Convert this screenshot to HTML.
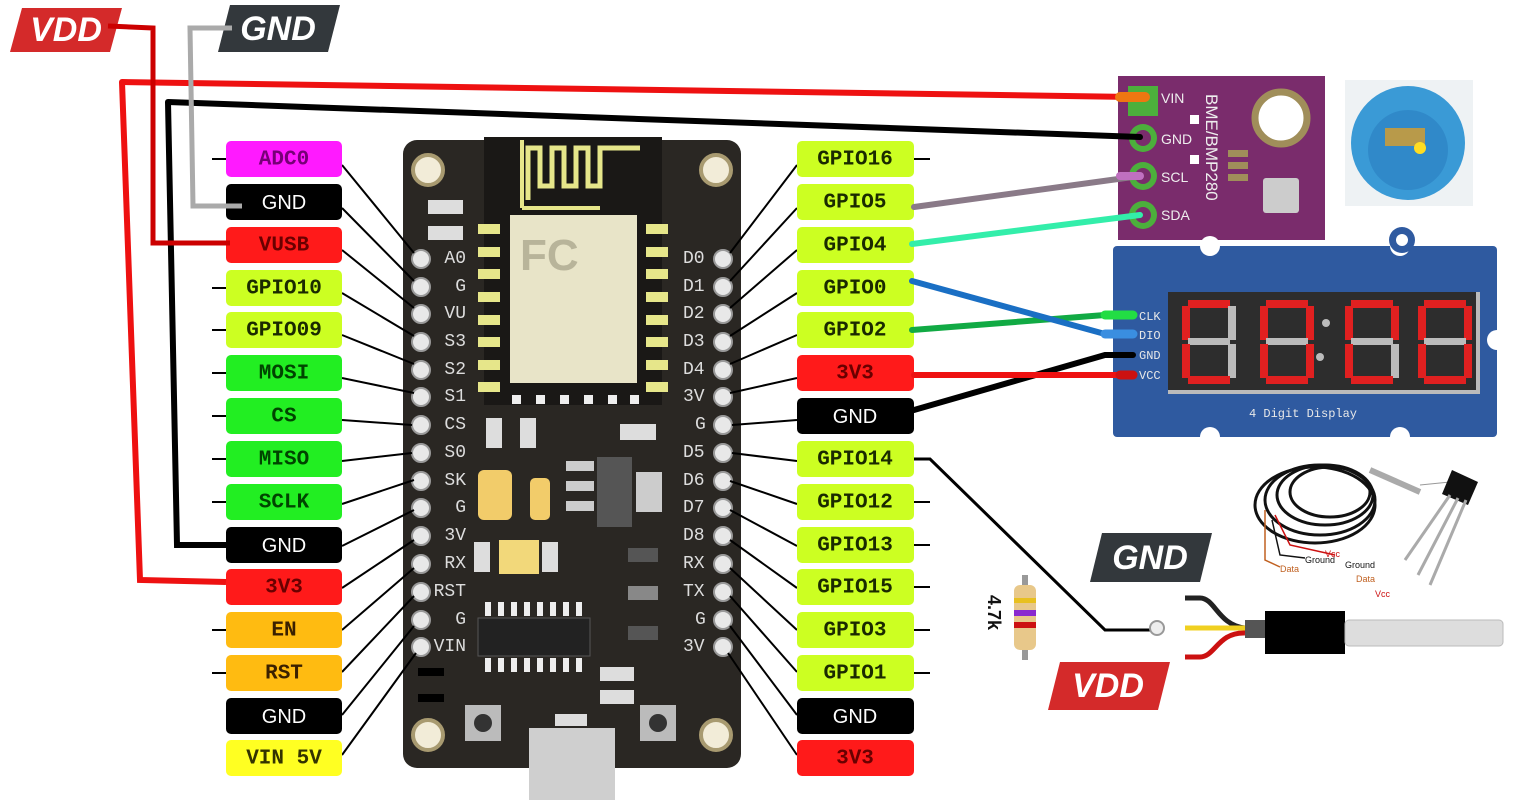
<!DOCTYPE html>
<html><head><meta charset="utf-8"><style>
html,body{margin:0;padding:0;background:#fff;width:1517px;height:800px;overflow:hidden}
svg{display:block}
.lt{font-family:"Liberation Mono",monospace;font-size:21px;font-weight:bold;text-anchor:middle;dominant-baseline:central}
.gt{font-family:"Liberation Sans",sans-serif;font-size:20px;text-anchor:middle;dominant-baseline:central;fill:#fff}
.pl{font-family:"Liberation Mono",monospace;font-size:18px;fill:#ddd;dominant-baseline:central}
.big{font-family:"Liberation Sans",sans-serif;font-size:34px;font-weight:bold;font-style:italic;fill:#fff;text-anchor:middle;dominant-baseline:central}
</style></head><body>
<svg width="1517" height="800" viewBox="0 0 1517 800" xmlns="http://www.w3.org/2000/svg">
<polygon points="22,8 122,8 110,52 10,52" fill="#d42a2a"/>
<text class="big" x="66" y="30">VDD</text>
<polygon points="230,5 340,5 328,52 218,52" fill="#33383c"/>
<text class="big" x="278" y="29">GND</text>

<rect x="403" y="140" width="338" height="628" rx="14" fill="#2a2723"/>
<g fill="#f2ecd8" stroke="#a89a70" stroke-width="4">
<circle cx="428" cy="170" r="15"/><circle cx="716" cy="170" r="15"/>
<circle cx="428" cy="735" r="15"/><circle cx="716" cy="735" r="15"/>
</g>
<rect x="484" y="137" width="178" height="268" fill="#1a1816"/>
<path d="M528,200 V148 H540 V186 H552 V148 H564 V186 H576 V148 H588 V186 H600 V148 H640" fill="none" stroke="#e6e68a" stroke-width="5"/>
<path d="M522,208 V140 M522,208 H600" fill="none" stroke="#e6e68a" stroke-width="4"/>
<rect x="510" y="215" width="127" height="168" fill="#e8e4c8"/>
<text x="520" y="270" font-family="Liberation Sans,sans-serif" font-size="44" font-weight="bold" fill="#b8b49a">FC</text>
<g fill="#e6e68a">
<rect x="478" y="224" width="22" height="10"/><rect x="478" y="247" width="22" height="10"/><rect x="478" y="269" width="22" height="10"/><rect x="478" y="292" width="22" height="10"/><rect x="478" y="315" width="22" height="10"/><rect x="478" y="337" width="22" height="10"/><rect x="478" y="360" width="22" height="10"/><rect x="478" y="382" width="22" height="10"/>
<rect x="646" y="224" width="22" height="10"/><rect x="646" y="247" width="22" height="10"/><rect x="646" y="269" width="22" height="10"/><rect x="646" y="292" width="22" height="10"/><rect x="646" y="315" width="22" height="10"/><rect x="646" y="337" width="22" height="10"/><rect x="646" y="360" width="22" height="10"/><rect x="646" y="382" width="22" height="10"/>
</g>
<g fill="#eee"><rect x="512" y="395" width="9" height="9"/><rect x="536" y="395" width="9" height="9"/><rect x="560" y="395" width="9" height="9"/><rect x="584" y="395" width="9" height="9"/><rect x="608" y="395" width="9" height="9"/><rect x="630" y="395" width="9" height="9"/></g>
<g fill="#ddd"><rect x="428" y="200" width="35" height="14"/><rect x="428" y="226" width="35" height="14"/><rect x="486" y="418" width="16" height="30"/><rect x="520" y="418" width="16" height="30"/><rect x="620" y="424" width="36" height="16"/><rect x="474" y="542" width="16" height="30"/><rect x="542" y="542" width="16" height="30"/><rect x="600" y="667" width="34" height="14"/><rect x="600" y="690" width="34" height="14"/></g>
<rect x="478" y="470" width="34" height="50" rx="6" fill="#f2cc6a"/>
<rect x="530" y="478" width="20" height="42" rx="5" fill="#f2cc6a"/>
<rect x="499" y="540" width="40" height="34" fill="#f2d87a"/>
<rect x="597" y="457" width="35" height="70" fill="#555"/>
<rect x="636" y="472" width="26" height="40" fill="#ccc"/>
<g fill="#ccc"><rect x="566" y="461" width="28" height="10"/><rect x="566" y="481" width="28" height="10"/><rect x="566" y="501" width="28" height="10"/></g>
<rect x="478" y="618" width="112" height="38" fill="#222" stroke="#555"/>
<g fill="#eee"><rect x="485" y="602" width="6" height="14"/><rect x="498" y="602" width="6" height="14"/><rect x="511" y="602" width="6" height="14"/><rect x="524" y="602" width="6" height="14"/><rect x="537" y="602" width="6" height="14"/><rect x="550" y="602" width="6" height="14"/><rect x="563" y="602" width="6" height="14"/><rect x="576" y="602" width="6" height="14"/>
<rect x="485" y="658" width="6" height="14"/><rect x="498" y="658" width="6" height="14"/><rect x="511" y="658" width="6" height="14"/><rect x="524" y="658" width="6" height="14"/><rect x="537" y="658" width="6" height="14"/><rect x="550" y="658" width="6" height="14"/><rect x="563" y="658" width="6" height="14"/><rect x="576" y="658" width="6" height="14"/></g>
<rect x="628" y="548" width="30" height="14" fill="#555"/><rect x="628" y="586" width="30" height="14" fill="#888"/><rect x="628" y="626" width="30" height="14" fill="#555"/>
<rect x="465" y="705" width="36" height="36" fill="#bbb"/><circle cx="483" cy="723" r="9" fill="#333"/>
<rect x="640" y="705" width="36" height="36" fill="#bbb"/><circle cx="658" cy="723" r="9" fill="#333"/>
<rect x="529" y="728" width="86" height="72" fill="#cfcfcf"/>
<rect x="555" y="714" width="32" height="12" fill="#ddd"/>
<rect x="418" y="668" width="26" height="8" fill="#000"/><rect x="418" y="694" width="26" height="8" fill="#000"/>

<g fill="#e8e8e8" stroke="#999" stroke-width="2">
<circle cx="421" cy="259" r="9"/><circle cx="421" cy="287" r="9"/><circle cx="421" cy="314" r="9"/><circle cx="421" cy="342" r="9"/><circle cx="421" cy="370" r="9"/><circle cx="421" cy="397" r="9"/><circle cx="421" cy="425" r="9"/><circle cx="421" cy="453" r="9"/><circle cx="421" cy="481" r="9"/><circle cx="421" cy="508" r="9"/><circle cx="421" cy="536" r="9"/><circle cx="421" cy="564" r="9"/><circle cx="421" cy="592" r="9"/><circle cx="421" cy="620" r="9"/><circle cx="421" cy="647" r="9"/>
<circle cx="723" cy="259" r="9"/><circle cx="723" cy="287" r="9"/><circle cx="723" cy="314" r="9"/><circle cx="723" cy="342" r="9"/><circle cx="723" cy="370" r="9"/><circle cx="723" cy="397" r="9"/><circle cx="723" cy="425" r="9"/><circle cx="723" cy="453" r="9"/><circle cx="723" cy="481" r="9"/><circle cx="723" cy="508" r="9"/><circle cx="723" cy="536" r="9"/><circle cx="723" cy="564" r="9"/><circle cx="723" cy="592" r="9"/><circle cx="723" cy="620" r="9"/><circle cx="723" cy="647" r="9"/>
</g>
<g class="pl" text-anchor="end">
<text x="466" y="259">A0</text><text x="466" y="287">G</text><text x="466" y="314">VU</text><text x="466" y="342">S3</text><text x="466" y="370">S2</text><text x="466" y="397">S1</text><text x="466" y="425">CS</text><text x="466" y="453">S0</text><text x="466" y="481">SK</text><text x="466" y="508">G</text><text x="466" y="536">3V</text><text x="466" y="564">RX</text><text x="466" y="592">RST</text><text x="466" y="620">G</text><text x="466" y="647">VIN</text>
</g>
<g class="pl" text-anchor="start">
<text x="683" y="259">D0</text><text x="683" y="287">D1</text><text x="683" y="314">D2</text><text x="683" y="342">D3</text><text x="683" y="370">D4</text><text x="683" y="397">3V</text><text x="695" y="425">G</text><text x="683" y="453">D5</text><text x="683" y="481">D6</text><text x="683" y="508">D7</text><text x="683" y="536">D8</text><text x="683" y="564">RX</text><text x="683" y="592">TX</text><text x="695" y="620">G</text><text x="683" y="647">3V</text>
</g>

<g stroke="#000" stroke-width="2" fill="none">
<path d="M342,165 L414,253 M342,208 L414,281 M342,250 L414,308 M342,293 L414,336 M342,335 L414,364 M342,378 L414,393 M342,420 L412,425 M342,461 L412,453 M342,504 L414,480 M342,546 L414,510 M342,588 L414,540 M342,630 L414,568 M342,672 L414,596 M342,715 L414,626 M342,755 L416,653"/>
<path d="M797,165 L730,253 M797,208 L730,281 M797,250 L730,308 M797,293 L730,336 M797,335 L730,364 M797,378 L730,393 M797,420 L732,425 M797,461 L732,453 M797,504 L730,481 M797,546 L730,510 M797,588 L730,540 M797,630 L730,568 M797,672 L730,596 M797,715 L730,626 M797,755 L728,653"/>
<path d="M212,159 H226 M212,288 H226 M212,330 H226 M212,373 H226 M212,416 H226 M212,459 H226 M212,502 H226 M212,630 H226 M212,673 H226"/>
<path d="M914,159 H930 M914,502 H930 M914,545 H930 M914,587 H930 M914,630 H930 M914,673 H930"/>
</g>

<g>
<rect x="226" y="141" width="116" height="36" rx="5" fill="#ff1aff"/><text class="lt" x="284" y="160" fill="#770077">ADC0</text>
<rect x="226" y="184" width="116" height="36" rx="5" fill="#000"/><text class="gt" x="284" y="203">GND</text>
<rect x="226" y="227" width="116" height="36" rx="5" fill="#ff1a1a"/><text class="lt" x="284" y="246" fill="#6a0000">VUSB</text>
<rect x="226" y="270" width="116" height="36" rx="5" fill="#ccff22"/><text class="lt" x="284" y="289" fill="#1a2a00">GPIO10</text>
<rect x="226" y="312" width="116" height="36" rx="5" fill="#ccff22"/><text class="lt" x="284" y="331" fill="#1a2a00">GPIO09</text>
<rect x="226" y="355" width="116" height="36" rx="5" fill="#22ee22"/><text class="lt" x="284" y="374" fill="#004400">MOSI</text>
<rect x="226" y="398" width="116" height="36" rx="5" fill="#22ee22"/><text class="lt" x="284" y="417" fill="#004400">CS</text>
<rect x="226" y="441" width="116" height="36" rx="5" fill="#22ee22"/><text class="lt" x="284" y="460" fill="#004400">MISO</text>
<rect x="226" y="484" width="116" height="36" rx="5" fill="#22ee22"/><text class="lt" x="284" y="503" fill="#004400">SCLK</text>
<rect x="226" y="527" width="116" height="36" rx="5" fill="#000"/><text class="gt" x="284" y="546">GND</text>
<rect x="226" y="569" width="116" height="36" rx="5" fill="#ff1a1a"/><text class="lt" x="284" y="588" fill="#6a0000">3V3</text>
<rect x="226" y="612" width="116" height="36" rx="5" fill="#ffbb11"/><text class="lt" x="284" y="631" fill="#3a2000">EN</text>
<rect x="226" y="655" width="116" height="36" rx="5" fill="#ffbb11"/><text class="lt" x="284" y="674" fill="#3a2000">RST</text>
<rect x="226" y="698" width="116" height="36" rx="5" fill="#000"/><text class="gt" x="284" y="717">GND</text>
<rect x="226" y="740" width="116" height="36" rx="5" fill="#ffff22"/><text class="lt" x="284" y="759" fill="#333300">VIN 5V</text>
</g>
<g>
<rect x="797" y="141" width="117" height="36" rx="5" fill="#ccff22"/><text class="lt" x="855" y="160" fill="#1a2a00">GPIO16</text>
<rect x="797" y="184" width="117" height="36" rx="5" fill="#ccff22"/><text class="lt" x="855" y="203" fill="#1a2a00">GPIO5</text>
<rect x="797" y="227" width="117" height="36" rx="5" fill="#ccff22"/><text class="lt" x="855" y="246" fill="#1a2a00">GPIO4</text>
<rect x="797" y="270" width="117" height="36" rx="5" fill="#ccff22"/><text class="lt" x="855" y="289" fill="#1a2a00">GPIO0</text>
<rect x="797" y="312" width="117" height="36" rx="5" fill="#ccff22"/><text class="lt" x="855" y="331" fill="#1a2a00">GPIO2</text>
<rect x="797" y="355" width="117" height="36" rx="5" fill="#ff1a1a"/><text class="lt" x="855" y="374" fill="#6a0000">3V3</text>
<rect x="797" y="398" width="117" height="36" rx="5" fill="#000"/><text class="gt" x="855" y="417">GND</text>
<rect x="797" y="441" width="117" height="36" rx="5" fill="#ccff22"/><text class="lt" x="855" y="460" fill="#1a2a00">GPIO14</text>
<rect x="797" y="484" width="117" height="36" rx="5" fill="#ccff22"/><text class="lt" x="855" y="503" fill="#1a2a00">GPIO12</text>
<rect x="797" y="527" width="117" height="36" rx="5" fill="#ccff22"/><text class="lt" x="855" y="546" fill="#1a2a00">GPIO13</text>
<rect x="797" y="569" width="117" height="36" rx="5" fill="#ccff22"/><text class="lt" x="855" y="588" fill="#1a2a00">GPIO15</text>
<rect x="797" y="612" width="117" height="36" rx="5" fill="#ccff22"/><text class="lt" x="855" y="631" fill="#1a2a00">GPIO3</text>
<rect x="797" y="655" width="117" height="36" rx="5" fill="#ccff22"/><text class="lt" x="855" y="674" fill="#1a2a00">GPIO1</text>
<rect x="797" y="698" width="117" height="36" rx="5" fill="#000"/><text class="gt" x="855" y="717">GND</text>
<rect x="797" y="740" width="117" height="36" rx="5" fill="#ff1a1a"/><text class="lt" x="855" y="759" fill="#6a0000">3V3</text>
</g>

<rect x="1118" y="76" width="207" height="164" fill="#7a2c6c"/>
<g fill="#4caf3c"><rect x="1128" y="86" width="30" height="30"/><circle cx="1143" cy="138" r="14"/><circle cx="1143" cy="176" r="14"/><circle cx="1143" cy="215" r="14"/></g>
<g fill="#7a2c6c"><circle cx="1143" cy="138" r="8"/><circle cx="1143" cy="176" r="8"/><circle cx="1143" cy="215" r="8"/></g>
<g font-family="Liberation Sans,sans-serif" font-size="14" fill="#eee"><text x="1161" y="103">VIN</text><text x="1161" y="144">GND</text><text x="1161" y="182">SCL</text><text x="1161" y="220">SDA</text></g>
<text x="0" y="0" transform="translate(1206,94) rotate(90)" font-family="Liberation Sans,sans-serif" font-size="17" fill="#eee">BME/BMP280</text>
<rect x="1190" y="115" width="9" height="9" fill="#fff"/><rect x="1190" y="155" width="9" height="9" fill="#fff"/>
<circle cx="1281" cy="118" r="26" fill="#fff" stroke="#a08e5a" stroke-width="7"/>
<g fill="#a08e5a"><rect x="1228" y="150" width="20" height="7"/><rect x="1228" y="162" width="20" height="7"/><rect x="1228" y="174" width="20" height="7"/></g>
<rect x="1263" y="178" width="36" height="35" rx="3" fill="#ccc"/>
<g fill="none" stroke-linecap="round">
<path d="M122,82 L1133,97" stroke="#ee1111" stroke-width="6"/>
<path d="M1120,97 H1145" stroke="#ee7711" stroke-width="10"/>
<path d="M168,102 L1140,137" stroke="#000" stroke-width="6"/>
<path d="M914,207 L1140,176" stroke="#8a7a88" stroke-width="6"/>
<path d="M1120,176 H1140" stroke="#c070c0" stroke-width="8"/>
<path d="M912,244 L1140,215" stroke="#33eeaa" stroke-width="6"/>
</g>
<rect x="1345" y="80" width="128" height="126" fill="#eef2f4"/>
<circle cx="1408" cy="143" r="57" fill="#3a9ad6"/>
<circle cx="1408" cy="150" r="40" fill="#2a7fbf" opacity="0.6"/>
<rect x="1385" y="128" width="40" height="18" fill="#b89a4a"/>
<circle cx="1420" cy="148" r="6" fill="#ffdd22"/>

<rect x="1113" y="246" width="384" height="191" rx="4" fill="#2f5aa0"/>
<circle cx="1210" cy="246" r="10" fill="#fff"/><circle cx="1400" cy="246" r="10" fill="#fff"/><circle cx="1210" cy="437" r="10" fill="#fff"/><circle cx="1400" cy="437" r="10" fill="#fff"/><circle cx="1497" cy="340" r="10" fill="#fff"/>
<circle cx="1402" cy="240" r="13" fill="#2f5aa0"/><circle cx="1402" cy="240" r="6" fill="#fff"/>
<rect x="1168" y="292" width="312" height="102" fill="#bbb"/>
<rect x="1168" y="292" width="308" height="98" fill="#2d2d2d"/>
<g>
<g transform="translate(1182,300)" ><rect x="6" y="0" width="42" height="8" fill="#e02020"/><rect x="0" y="6" width="8" height="34" fill="#e02020"/><rect x="46" y="6" width="8" height="34" fill="#bbb"/><rect x="6" y="38" width="42" height="7" fill="#bbb"/><rect x="0" y="44" width="8" height="34" fill="#e02020"/><rect x="46" y="44" width="8" height="34" fill="#bbb"/><rect x="6" y="76" width="42" height="8" fill="#e02020"/></g>
<g transform="translate(1260,300)" ><rect x="6" y="0" width="42" height="8" fill="#e02020"/><rect x="0" y="6" width="8" height="34" fill="#e02020"/><rect x="46" y="6" width="8" height="34" fill="#e02020"/><rect x="6" y="38" width="42" height="7" fill="#bbb"/><rect x="0" y="44" width="8" height="34" fill="#e02020"/><rect x="46" y="44" width="8" height="34" fill="#e02020"/><rect x="6" y="76" width="42" height="8" fill="#e02020"/></g>
<g transform="translate(1345,300)" ><rect x="6" y="0" width="42" height="8" fill="#e02020"/><rect x="0" y="6" width="8" height="34" fill="#e02020"/><rect x="46" y="6" width="8" height="34" fill="#e02020"/><rect x="6" y="38" width="42" height="7" fill="#bbb"/><rect x="0" y="44" width="8" height="34" fill="#e02020"/><rect x="46" y="44" width="8" height="34" fill="#bbb"/><rect x="6" y="76" width="42" height="8" fill="#e02020"/></g>
<g transform="translate(1418,300)" ><rect x="6" y="0" width="42" height="8" fill="#e02020"/><rect x="0" y="6" width="8" height="34" fill="#e02020"/><rect x="46" y="6" width="8" height="34" fill="#e02020"/><rect x="6" y="38" width="42" height="7" fill="#bbb"/><rect x="0" y="44" width="8" height="34" fill="#e02020"/><rect x="46" y="44" width="8" height="34" fill="#e02020"/><rect x="6" y="76" width="42" height="8" fill="#e02020"/></g>
<circle cx="1326" cy="323" r="4" fill="#bbb"/><circle cx="1320" cy="357" r="4" fill="#bbb"/>
</g>
<text x="1303" y="417" font-family="Liberation Mono,monospace" font-size="12" fill="#e8e8e8" text-anchor="middle">4 Digit Display</text>
<g font-family="Liberation Mono,monospace" font-size="12" fill="#e8e8e8"><text x="1139" y="320">CLK</text><text x="1139" y="339">DIO</text><text x="1139" y="359">GND</text><text x="1139" y="379">VCC</text></g>
<g fill="none" stroke-linecap="round">
<path d="M912,330 L1105,315 H1133" stroke="#11aa44" stroke-width="6"/>
<path d="M1105,315 H1133" stroke="#22dd44" stroke-width="9"/>
<path d="M912,281 L1105,334 H1133" stroke="#1a6fc4" stroke-width="6"/>
<path d="M1105,334 H1133" stroke="#3a8ee0" stroke-width="9"/>
<path d="M914,410 L1105,355 H1133" stroke="#000" stroke-width="6"/>
<path d="M914,375 H1133" stroke="#ee1111" stroke-width="6"/>
<path d="M1120,375 H1133" stroke="#cc1111" stroke-width="9"/>
</g>

<g fill="none" stroke-linejoin="miter">
<path d="M226,582 L140,580 L122,82" stroke="#ee1111" stroke-width="6"/>
<path d="M226,545 L177,545 L168,102" stroke="#000" stroke-width="6"/>
<path d="M108,26 L153,28 L153,243 L230,243" stroke="#cc0000" stroke-width="5"/>
<path d="M232,28 L190,28 L193,206 L242,206" stroke="#aaa" stroke-width="5"/>
</g>

<polygon points="1102,533 1212,533 1200,582 1090,582" fill="#33383c"/>
<text class="big" x="1150" y="558">GND</text>
<polygon points="1060,662 1170,662 1158,710 1048,710" fill="#d42a2a"/>
<text class="big" x="1108" y="686">VDD</text>
<path d="M914,459 H930 L1105,630 H1150" fill="none" stroke="#000" stroke-width="3"/>
<circle cx="1157" cy="628" r="7" fill="#eee" stroke="#999" stroke-width="2"/>
<rect x="1022" y="575" width="6" height="85" fill="#999"/>
<rect x="1014" y="585" width="22" height="65" rx="6" fill="#e8c88a"/>
<rect x="1014" y="598" width="22" height="5" fill="#e8c020"/><rect x="1014" y="610" width="22" height="6" fill="#8a2ad0"/><rect x="1014" y="622" width="22" height="6" fill="#cc1111"/>
<text transform="translate(988,595) rotate(90)" font-family="Liberation Sans,sans-serif" font-size="18" font-weight="bold" fill="#111">4.7k</text>
<g fill="none" stroke-width="5">
<path d="M1185,598 H1200 C1215,598 1218,625 1245,628" stroke="#222"/>
<path d="M1185,628 H1250" stroke="#f0d020"/>
<path d="M1185,657 H1200 C1215,657 1218,632 1245,633" stroke="#cc1111"/>
</g>
<rect x="1245" y="620" width="22" height="18" fill="#555"/>
<rect x="1265" y="611" width="80" height="43" fill="#000"/>
<rect x="1345" y="620" width="158" height="26" rx="4" fill="#ddd" stroke="#bbb"/>
<g fill="none" stroke="#111" stroke-width="3">
<ellipse cx="1320" cy="500" rx="55" ry="35"/><ellipse cx="1325" cy="495" rx="48" ry="30"/><ellipse cx="1315" cy="505" rx="60" ry="38"/><ellipse cx="1330" cy="492" rx="40" ry="25"/>
</g>
<path d="M1370,470 L1420,492" stroke="#aaa" stroke-width="6"/>
<path d="M1420,485 L1450,482" stroke="#999" stroke-width="1"/>
<polygon points="1452,470 1478,482 1468,505 1442,494" fill="#111"/>
<g stroke="#aaa" stroke-width="3" fill="none"><path d="M1450,495 L1405,560"/><path d="M1458,498 L1418,575"/><path d="M1466,500 L1430,585"/></g>
<g stroke="#c06020" stroke-width="1.5" fill="none"><path d="M1265,510 V560 L1280,567"/></g>
<g stroke="#cc1111" stroke-width="1.5" fill="none"><path d="M1275,515 L1290,545 L1335,555"/></g>
<g stroke="#111" stroke-width="1.5" fill="none"><path d="M1272,520 L1280,555 L1305,558"/></g>
<g font-family="Liberation Sans,sans-serif" font-size="9">
<text x="1280" y="572" fill="#c06020">Data</text><text x="1305" y="563" fill="#111">Ground</text><text x="1325" y="557" fill="#cc1111">Vcc</text>
<text x="1345" y="568" fill="#111">Ground</text><text x="1356" y="582" fill="#c06020">Data</text><text x="1375" y="597" fill="#cc1111">Vcc</text>
</g>
</svg>
</body></html>
